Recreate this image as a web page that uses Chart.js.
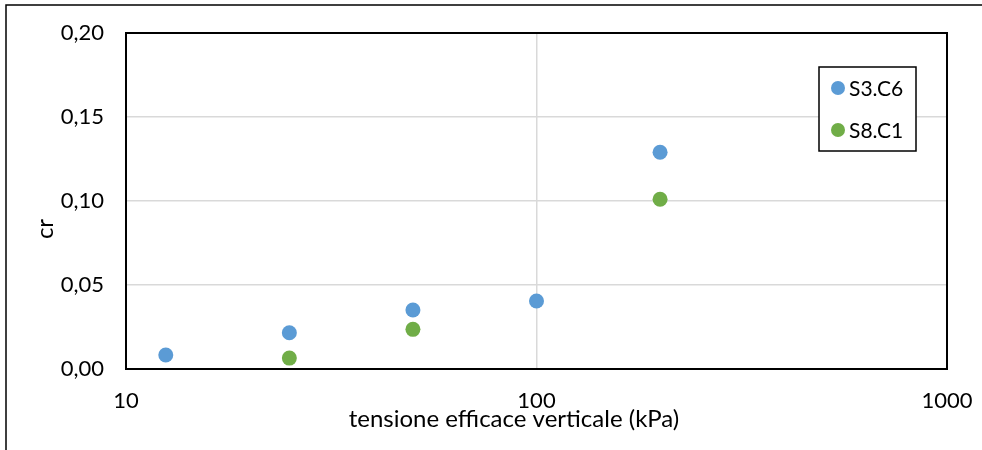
<!DOCTYPE html>
<html>
<head>
<meta charset="utf-8">
<script src="https://cdn.jsdelivr.net/npm/chart.js@4/dist/chart.umd.min.js"></script>
<style>
  html, body { margin: 0; padding: 0; background: #ffffff; }
  #wrap { width: 982px; height: 450px; position: relative; }
</style>
</head>
<body>
<div id="wrap"><canvas id="chart" width="982" height="450"></canvas></div>
<script>
// data
const seriesNames = ["S3.C6", "S8.C1"];
const s3c6X = [12.5, 25, 50, 100, 200];
const s3c6Y = [0.0083, 0.0216, 0.0351, 0.0405, 0.129];
const s8c1X = [25, 50, 200];
const s8c1Y = [0.0065, 0.0236, 0.101];
const xTicks = [10, 100, 1000];
const yTicks = [0, 0.05, 0.10, 0.15, 0.20];
const xTitle = "tensione efficace verticale (kPa)";
const yTitle = "cr";

const colors = ["#5B9BD5", "#70AD47"];
const font = "Lato, 'Open Sans', sans-serif";

function toPoints(xs, ys) {
  return xs.map((x, i) => ({ x: x, y: ys[i] }));
}

// frame, plot border, axis titles and legend box
const decorations = {
  id: "decorations",
  afterDraw(chart) {
    const ctx = chart.ctx;
    const a = chart.chartArea;
    ctx.save();
    // outer frame (only top and left visible)
    ctx.strokeStyle = "#000000";
    ctx.lineWidth = 1.5;
    ctx.strokeRect(6, 5, 1000, 500);
    // plot area border
    ctx.lineWidth = 2;
    ctx.strokeRect(a.left, a.top, a.right - a.left, a.bottom - a.top);

    // axis titles
    ctx.fillStyle = "#000000";
    ctx.font = "24px " + font;
    ctx.textAlign = "center";
    ctx.textBaseline = "middle";
    ctx.fillText(xTitle, 514, 419);
    ctx.save();
    ctx.translate(45, 229);
    ctx.rotate(-Math.PI / 2);
    ctx.fillText(yTitle, 0, 0);
    ctx.restore();

    // legend
    ctx.font = "21px " + font;
    ctx.fillStyle = "#ffffff";
    ctx.fillRect(819, 67, 97, 84);
    ctx.lineWidth = 1.5;
    ctx.strokeRect(819, 67, 97, 84);
    chart.data.datasets.forEach((ds, i) => {
      const cy = 88 + i * 42;
      ctx.fillStyle = ds.backgroundColor;
      ctx.beginPath();
      ctx.arc(838, cy, 7, 0, Math.PI * 2);
      ctx.fill();
      ctx.fillStyle = "#000000";
      ctx.textAlign = "left";
      ctx.fillText(ds.label, 849, cy + 1);
    });
    ctx.restore();
  }
};

new Chart(document.getElementById("chart"), {
  type: "scatter",
  data: {
    datasets: [
      {
        label: seriesNames[0],
        data: toPoints(s3c6X, s3c6Y),
        backgroundColor: colors[0],
        borderWidth: 0,
        pointRadius: 7.5,
        pointHoverRadius: 7.5
      },
      {
        label: seriesNames[1],
        data: toPoints(s8c1X, s8c1Y),
        backgroundColor: colors[1],
        borderWidth: 0,
        pointRadius: 7.5,
        pointHoverRadius: 7.5
      }
    ]
  },
  options: {
    responsive: false,
    animation: false,
    layout: { padding: { top: 33, right: 35, left: 0, bottom: 0 } },
    plugins: {
      legend: { display: false },
      tooltip: { enabled: false }
    },
    scales: {
      x: {
        type: "logarithmic",
        min: 10,
        max: 1000,
        afterBuildTicks(scale) {
          scale.ticks = xTicks.map(v => ({ value: v, major: true }));
        },
        afterFit(scale) {
          scale.height = 81;
          scale.paddingLeft = 0;
          scale.paddingRight = 0;
        },
        grid: { color: "#d9d9d9", lineWidth: 1.5, drawTicks: false },
        border: { display: false },
        ticks: {
          color: "#000000",
          font: { family: font, size: 22 },
          padding: 19,
          maxRotation: 0,
          callback: v => String(v)
        }
      },
      y: {
        min: 0,
        max: 0.2,
        afterBuildTicks(scale) {
          scale.ticks = yTicks.map(v => ({ value: v }));
        },
        afterFit(scale) {
          scale.width = 126;
          scale.paddingTop = 0;
          scale.paddingBottom = 0;
        },
        grid: { color: "#d9d9d9", lineWidth: 1.5, drawTicks: false },
        border: { display: false },
        ticks: {
          color: "#000000",
          font: { family: font, size: 22 },
          padding: 22,
          callback: v => v.toFixed(2).replace(".", ",")
        }
      }
    }
  },
  plugins: [decorations]
});
</script>
</body>
</html>
